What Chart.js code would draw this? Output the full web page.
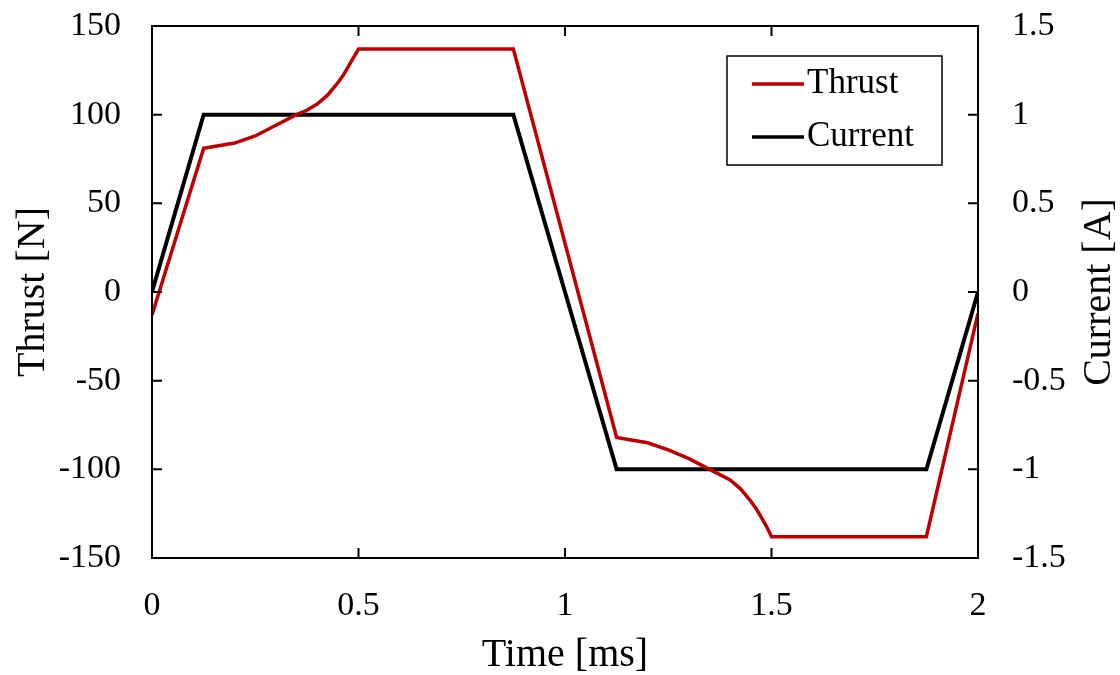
<!DOCTYPE html>
<html>
<head>
<meta charset="utf-8">
<script src="https://cdn.jsdelivr.net/npm/chart.js@4"></script>
<style>
  html, body { margin: 0; padding: 0; background: #fff; }
  #wrap { width: 1120px; height: 675px; }
</style>
</head>
<body>
<div id="wrap"><canvas id="thrustChart" width="1120" height="675"></canvas></div>
<script>
// time axis [ms] and the two measured series
const timeCurrent = [0, 0.125, 0.875, 1.125, 1.875, 2];
const current = [0, 1, 1, -1, -1, 0];

const timeThrust = [0, 0.125, 0.15, 0.2, 0.25, 0.3, 0.35, 0.375, 0.4, 0.425, 0.45, 0.4625, 0.475, 0.4875, 0.5,
  0.875, 1.125, 1.15, 1.2, 1.25, 1.3, 1.35, 1.375, 1.4, 1.425, 1.45, 1.4625, 1.475, 1.4875, 1.5, 1.875, 2];
const thrust = [-13, 81, 82, 84, 88, 94, 100, 102.5, 106, 111, 118, 122, 127, 132, 137,
  137, -82, -83, -85, -89, -94, -100, -103, -106, -111, -118, -122, -127, -132, -138, -138, -12];

const xTicks = ['0', '0.5', '1', '1.5', '2'];
const thrustTicks = ['-150', '-100', '-50', '0', '50', '100', '150'];
const currentTicks = ['-1.5', '-1', '-0.5', '0', '0.5', '1', '1.5'];

const seriesLabels = ['Thrust', 'Current'];
const seriesColors = ['#c00000', '#000000'];

const FONT = "'Liberation Serif', 'Times New Roman', serif";

function toPoints(xs, ys) {
  return xs.map((x, i) => ({ x: x, y: ys[i] }));
}

// fixed axis sizes, no extra label overhang padding
function fixSize(w, h) {
  return s => {
    if (w) s.width = w;
    if (h) s.height = h;
    s.paddingTop = 0; s.paddingBottom = 0;
    s.paddingLeft = 0; s.paddingRight = 0;
  };
}

// frame, inward ticks, axis titles and the boxed legend
const framePlugin = {
  id: 'frame',
  afterDraw(chart) {
    const ctx = chart.ctx;
    const a = chart.chartArea;
    const sx = chart.scales.x, sy = chart.scales.y;
    const tl = 10;
    ctx.save();
    ctx.strokeStyle = '#000';
    ctx.lineWidth = 2;
    ctx.strokeRect(a.left, a.top, a.right - a.left, a.bottom - a.top);

    ctx.beginPath();
    sx.ticks.forEach(t => {
      const px = sx.getPixelForValue(t.value);
      ctx.moveTo(px, a.bottom); ctx.lineTo(px, a.bottom - tl);
      ctx.moveTo(px, a.top); ctx.lineTo(px, a.top + tl);
    });
    sy.ticks.forEach(t => {
      const py = sy.getPixelForValue(t.value);
      ctx.moveTo(a.left, py); ctx.lineTo(a.left + tl, py);
      ctx.moveTo(a.right, py); ctx.lineTo(a.right - tl, py);
    });
    ctx.stroke();

    // axis titles
    ctx.fillStyle = '#000';
    ctx.font = '40px ' + FONT;
    ctx.textAlign = 'center';
    ctx.textBaseline = 'middle';
    ctx.fillText('Time [ms]', (a.left + a.right) / 2, 655);

    const midY = (a.top + a.bottom) / 2;
    ctx.save();
    ctx.translate(33, midY);
    ctx.rotate(-Math.PI / 2);
    ctx.fillText('Thrust [N]', 0, 0);
    ctx.restore();

    ctx.save();
    ctx.translate(1099, midY);
    ctx.rotate(-Math.PI / 2);
    ctx.fillText('Current [A]', 0, 0);
    ctx.restore();

    // legend
    ctx.lineWidth = 1.5;
    ctx.strokeRect(727, 56, 215, 109);
    ctx.font = '35px ' + FONT;
    ctx.textAlign = 'left';
    const rows = [84, 137];
    seriesLabels.forEach((lab, i) => {
      ctx.strokeStyle = seriesColors[i];
      ctx.lineWidth = 3.5;
      ctx.beginPath();
      ctx.moveTo(752, rows[i]);
      ctx.lineTo(804, rows[i]);
      ctx.stroke();
      ctx.fillStyle = '#000';
      ctx.fillText(lab, 807, rows[i]);
    });
    ctx.restore();
  }
};

let ctx = document.getElementById('thrustChart').getContext('2d');
let thrustChart = new Chart(ctx, {
  type: 'line',
  data: {
    datasets: [{
      label: seriesLabels[0],
      data: toPoints(timeThrust, thrust),
      yAxisID: 'y',
      borderColor: seriesColors[0],
      borderWidth: 3.5,
      pointRadius: 0,
      tension: 0,
      fill: false
    }, {
      label: seriesLabels[1],
      data: toPoints(timeCurrent, current),
      yAxisID: 'y1',
      borderColor: seriesColors[1],
      borderWidth: 4,
      pointRadius: 0,
      tension: 0,
      fill: false
    }]
  },
  options: {
    responsive: false,
    animation: false,
    layout: { padding: { left: 0, right: 0, top: 26, bottom: 0 } },
    plugins: {
      legend: { display: false },
      tooltip: { enabled: false }
    },
    scales: {
      x: {
        type: 'linear',
        min: 0,
        max: 2,
        grid: { display: false },
        border: { display: false },
        afterFit: fixSize(0, 117),
        ticks: {
          stepSize: 0.5,
          padding: 20,
          color: '#000',
          font: { family: FONT, size: 34 },
          callback: (v) => xTicks[Math.round(v * 2)]
        }
      },
      y: {
        position: 'left',
        min: -150,
        max: 150,
        grid: { display: false },
        border: { display: false },
        afterFit: fixSize(152, 0),
        ticks: {
          stepSize: 50,
          padding: 23,
          color: '#000',
          font: { family: FONT, size: 34 },
          callback: (v) => thrustTicks[Math.round((v + 150) / 50)]
        }
      },
      y1: {
        position: 'right',
        min: -1.5,
        max: 1.5,
        grid: { display: false },
        border: { display: false },
        afterFit: fixSize(142, 0),
        ticks: {
          stepSize: 0.5,
          padding: 26,
          color: '#000',
          font: { family: FONT, size: 34 },
          callback: (v) => currentTicks[Math.round((v + 1.5) * 2)]
        }
      }
    }
  },
  plugins: [framePlugin]
});
</script>
</body>
</html>
